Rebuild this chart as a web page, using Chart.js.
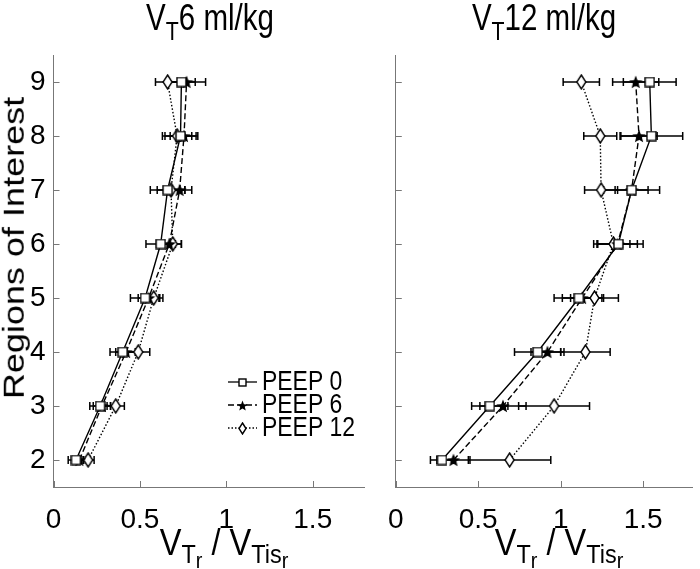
<!DOCTYPE html>
<html>
<head>
<meta charset="utf-8">
<script src="https://cdn.jsdelivr.net/npm/chart.js@4.4.0/dist/chart.umd.min.js"></script>
<style>
body { margin: 0; background: #fff; }
#wrap { position: relative; width: 700px; height: 569px; overflow: hidden; font-family: "Liberation Sans", Arial, sans-serif; color: #000; }
canvas { position: absolute; top: 0; }
#c1 { left: 0; }
#c2 { left: 372px; }
.lbl { position: absolute; white-space: nowrap; line-height: 1; font-size: 36px; transform: translateX(-50%) scaleX(0.82); }
.lbl sub { font-size: 0.72em; vertical-align: -0.4em; line-height: 0; }
.xlbl { font-size: 37px; transform: translateX(-50%) scaleX(0.88); }
.xlbl sub { vertical-align: -0.3em; }
.xlbl sub sub { font-size: 0.85em; vertical-align: -0.2em; }
#ytitle { position: absolute; left: 14px; top: 248px; white-space: nowrap; line-height: 1; font-size: 36px; transform: translate(-50%, -50%) rotate(-90deg) scaleY(0.82); }
</style>
</head>
<body>
<div id="wrap">
  <canvas id="c1" width="372" height="569"></canvas>
  <canvas id="c2" width="328" height="569"></canvas>
  <div class="lbl" style="left:210px; top:0px;">V<sub>T</sub>6 ml/kg</div>
  <div class="lbl" style="left:544px; top:0px;">V<sub>T</sub>12 ml/kg</div>
  <div class="lbl xlbl" style="left:224px; top:524px;">V<sub>T<sub>r</sub></sub> / V<sub>Tis<sub>r</sub></sub></div>
  <div class="lbl xlbl" style="left:559px; top:524px;">V<sub>T<sub>r</sub></sub> / V<sub>Tis<sub>r</sub></sub></div>
  <div id="ytitle">Regions of Interest</div>
</div>
<script>
// regions of interest (y) and axis ticks
const regions = [2, 3, 4, 5, 6, 7, 8, 9];
const xTicks = [0, 0.5, 1, 1.5];
const yTicks = [2, 3, 4, 5, 6, 7, 8, 9];
const seriesNames = ['PEEP 0', 'PEEP 6', 'PEEP 12'];

// VT 6 ml/kg
const peep0Vt6 = [0.13, 0.27, 0.40, 0.53, 0.62, 0.66, 0.735, 0.74];
const peep6Vt6 = [0.15, 0.28, 0.42, 0.55, 0.67, 0.73, 0.755, 0.77];
const peep12Vt6 = [0.20, 0.36, 0.49, 0.58, 0.69, 0.68, 0.715, 0.66];
const err0Vt6 = [0.045, 0.06, 0.073, 0.085, 0.085, 0.10, 0.09, 0.08];
const err6Vt6 = [0.04, 0.05, 0.06, 0.06, 0.07, 0.07, 0.08, 0.11];
const err12Vt6 = [0.035, 0.05, 0.067, 0.053, 0.05, 0.08, 0.085, 0.07];

// VT 12 ml/kg
const peep0Vt12 = [0.28, 0.57, 0.86, 1.11, 1.35, 1.43, 1.55, 1.54];
const peep6Vt12 = [0.35, 0.65, 0.92, 1.13, 1.345, 1.43, 1.475, 1.455];
const peep12Vt12 = [0.69, 0.96, 1.15, 1.205, 1.32, 1.245, 1.24, 1.125];
const err0Vt12 = [0.07, 0.11, 0.14, 0.15, 0.15, 0.17, 0.19, 0.16];
const err6Vt12 = [0.10, 0.14, 0.10, 0.12, 0.12, 0.10, 0.11, 0.14];
const err12Vt12 = [0.25, 0.215, 0.15, 0.145, 0.10, 0.10, 0.10, 0.11];

const dashes = [[], [6, 3], [1.5, 2]];
const tickFont = { family: '"Liberation Sans Narrow", "Liberation Sans", Arial, sans-serif', size: 28 };

// marker images
function squareMark(s) {
    const c = document.createElement('canvas');
    c.width = s; c.height = s;
    const g = c.getContext('2d');
    g.fillStyle = '#fff'; g.strokeStyle = '#000'; g.lineWidth = 1.4;
    g.fillRect(1, 1, s - 2, s - 2);
    g.strokeRect(1, 1, s - 2, s - 2);
    return c;
}
function starMark(s) {
    const c = document.createElement('canvas');
    c.width = s; c.height = s;
    const g = c.getContext('2d');
    const r1 = s / 2, r2 = s / 4.6;
    g.fillStyle = '#000';
    g.beginPath();
    for (let k = 0; k < 10; k++) {
        const r = k % 2 ? r2 : r1;
        const a = -Math.PI / 2 + k * Math.PI / 5;
        g.lineTo(s / 2 + r * Math.cos(a), s / 2 + 0.6 + r * Math.sin(a));
    }
    g.closePath();
    g.fill();
    return c;
}
function diamondMark(w, h) {
    const c = document.createElement('canvas');
    c.width = w; c.height = h;
    const g = c.getContext('2d');
    g.fillStyle = '#fff'; g.strokeStyle = '#000'; g.lineWidth = 1.4;
    g.beginPath();
    g.moveTo(w / 2, 1); g.lineTo(w - 1, h / 2); g.lineTo(w / 2, h - 1); g.lineTo(1, h / 2);
    g.closePath();
    g.fill(); g.stroke();
    return c;
}
const marks = [squareMark(11), starMark(14), diamondMark(11, 16)];
const legendMarks = [squareMark(9), starMark(11), diamondMark(9, 13)];

const errorBars = {
    id: 'errorBars',
    beforeDatasetsDraw(chart) {
        const { ctx, scales: { x, y } } = chart;
        ctx.save();
        ctx.strokeStyle = '#000';
        ctx.lineWidth = 1.5;
        chart.data.datasets.forEach(ds => {
            ds.data.forEach((p, i) => {
                const e = ds.errors[i];
                const x0 = x.getPixelForValue(p.x - e);
                const x1 = x.getPixelForValue(p.x + e);
                const py = y.getPixelForValue(p.y);
                ctx.beginPath();
                ctx.moveTo(x0, py); ctx.lineTo(x1, py);
                ctx.moveTo(x0, py - 4); ctx.lineTo(x0, py + 4);
                ctx.moveTo(x1, py - 4); ctx.lineTo(x1, py + 4);
                ctx.stroke();
            });
        });
        ctx.restore();
    }
};

// matlab style ticks pointing into the plot
const innerTicks = {
    id: 'innerTicks',
    afterDraw(chart) {
        const { ctx, chartArea: a, scales: { x, y } } = chart;
        ctx.save();
        ctx.strokeStyle = '#777';
        ctx.lineWidth = 1;
        ctx.beginPath();
        xTicks.forEach(v => {
            const px = Math.round(x.getPixelForValue(v)) + 0.5;
            ctx.moveTo(px, a.bottom); ctx.lineTo(px, a.bottom - 6);
        });
        yTicks.forEach(v => {
            const py = Math.round(y.getPixelForValue(v)) + 0.5;
            ctx.moveTo(a.left, py); ctx.lineTo(a.left + 6, py);
        });
        ctx.stroke();
        ctx.restore();
    }
};

const legendBox = {
    id: 'legendBox',
    afterDraw(chart) {
        const ctx = chart.ctx;
        chart.data.datasets.forEach((ds, i) => {
            const y = 382 + i * 23;
            ctx.save();
            ctx.strokeStyle = '#000';
            ctx.lineWidth = 1.3;
            ctx.setLineDash(ds.borderDash);
            ctx.beginPath();
            ctx.moveTo(228, y); ctx.lineTo(257, y);
            ctx.stroke();
            ctx.setLineDash([]);
            const img = legendMarks[i];
            ctx.drawImage(img, Math.round(242.5 - img.width / 2), Math.round(y - img.height / 2));
            ctx.translate(262, y);
            ctx.scale(0.85, 1);
            ctx.font = '27px "Liberation Sans", Arial, sans-serif';
            ctx.textBaseline = 'middle';
            ctx.fillStyle = '#000';
            ctx.fillText(ds.label, 0, 1);
            ctx.restore();
        });
    }
};

function buildDatasets(vals, errs) {
    return vals.map((v, k) => ({
        label: seriesNames[k],
        data: regions.map((r, i) => ({ x: v[i], y: r })),
        errors: errs[k],
        showLine: true,
        borderColor: '#000',
        backgroundColor: '#000',
        borderWidth: 1.4,
        borderDash: dashes[k],
        pointStyle: marks[k],
        pointRadius: 6,
        tension: 0,
        fill: false
    }));
}

function makeChart(id, datasets, showY, yWidth, padRight, extra) {
    return new Chart(document.getElementById(id), {
        type: 'scatter',
        data: { datasets: datasets },
        options: {
            responsive: false,
            animation: false,
            devicePixelRatio: 1,
            layout: { padding: { top: 55, right: padRight, left: 0, bottom: 0 } },
            plugins: { legend: { display: false }, tooltip: { enabled: false } },
            scales: {
                x: {
                    type: 'linear', min: 0, max: 1.8,
                    afterBuildTicks: s => { s.ticks = xTicks.map(v => ({ value: v })); },
                    afterFit: s => { s.height = 82; },
                    ticks: { font: tickFont, color: '#000', padding: 16, maxRotation: 0, callback: v => String(v) },
                    grid: { display: false, drawTicks: false },
                    border: { display: true, color: '#777', width: 1 }
                },
                y: {
                    type: 'linear', min: 1.5, max: 9.5,
                    afterBuildTicks: s => { s.ticks = yTicks.map(v => ({ value: v })); },
                    afterFit: s => { s.width = yWidth; },
                    ticks: { display: showY, font: tickFont, color: '#000', padding: 8, callback: v => String(v) },
                    grid: { display: false, drawTicks: false },
                    border: { display: true, color: '#777', width: 1 }
                }
            }
        },
        plugins: [errorBars, innerTicks].concat(extra)
    });
}

makeChart('c1', buildDatasets([peep0Vt6, peep6Vt6, peep12Vt6], [err0Vt6, err6Vt6, err12Vt6]), true, 53.5, 6, [legendBox]);
makeChart('c2', buildDatasets([peep0Vt12, peep6Vt12, peep12Vt12], [err0Vt12, err6Vt12, err12Vt12]), false, 15.5, 0, []);
</script>
</body>
</html>
